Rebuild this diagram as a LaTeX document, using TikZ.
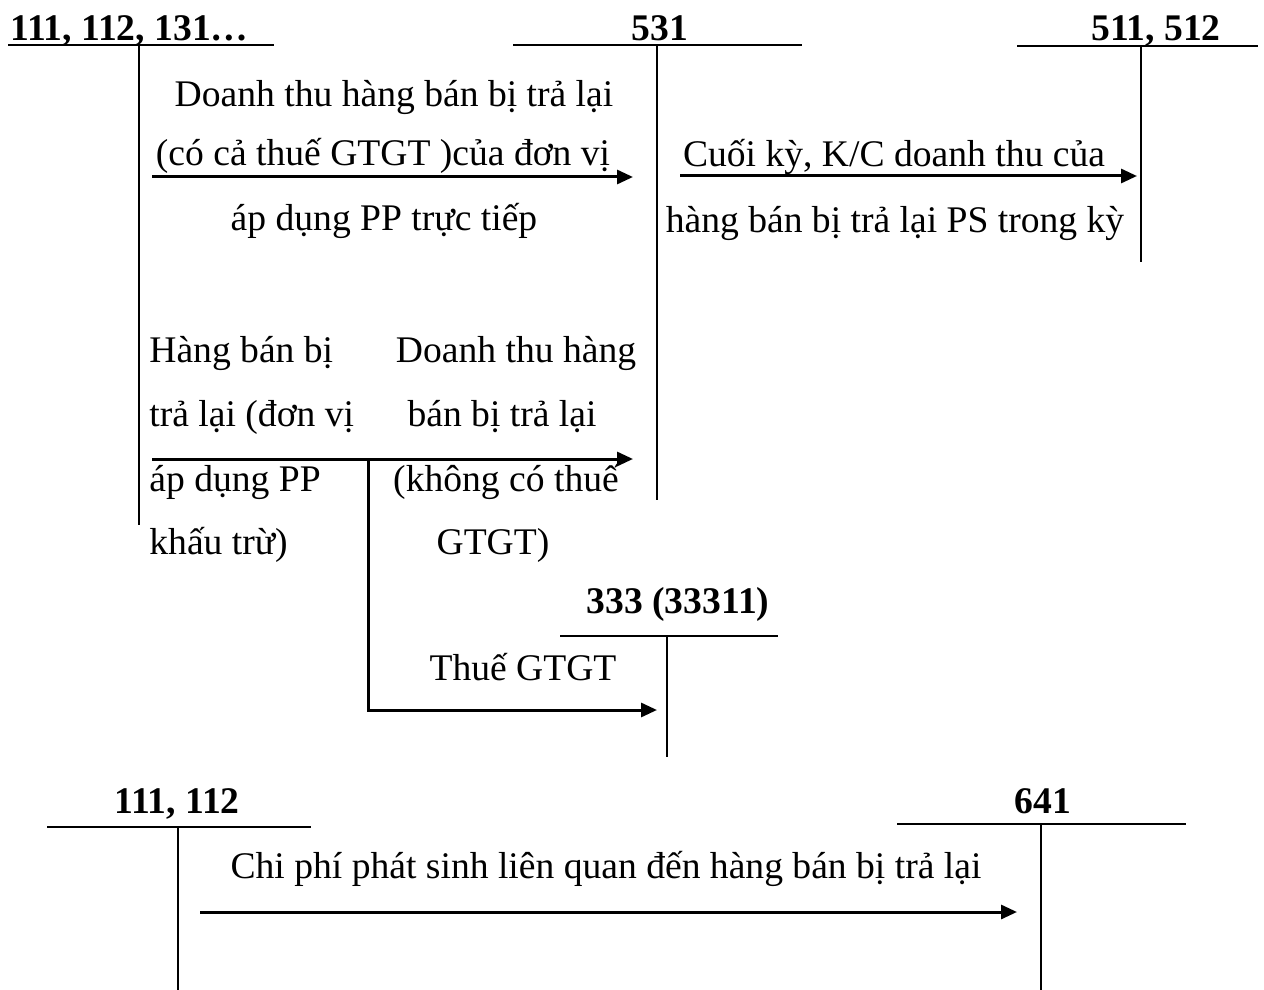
\documentclass[tikz,border=0pt]{standalone}
\usepackage{fontspec}
\setmainfont{Liberation Serif}
\usetikzlibrary{arrows.meta}

\begin{document}
\begin{tikzpicture}[x=0.5pt,y=-0.5pt,
    txt/.style={inner sep=0pt,anchor=base,font=\fontsize{18.8}{22}\selectfont},
    acc/.style={txt,font=\fontsize{18.8}{22}\selectfont\bfseries},
    tline/.style={line width=1pt},
    arr/.style={line width=1.5pt,-{Triangle[length=8pt,width=7pt]}}]
    \useasboundingbox (0,0) rectangle (1264,990);

    % TK 111, 112, 131...
    \coordinate (A1) at (8,45.5);
    \coordinate (A2) at (274,45.5);
    \coordinate (At) at (139,45.5);
    \coordinate (Ab) at (139,525);
    \draw[tline] (A1) -- (A2);
    \draw[tline] (At) -- (Ab);
    \node[acc,anchor=base west] (a) at (10,41) {111, 112, 131…};

    % TK 531
    \coordinate (B1) at (513,45.5);
    \coordinate (B2) at (802,45.5);
    \coordinate (Bt) at (657,45.5);
    \coordinate (Bb) at (657,500);
    \draw[tline] (B1) -- (B2);
    \draw[tline] (Bt) -- (Bb);
    \node[acc] (b) at (660,41) {531};

    % TK 511, 512
    \coordinate (C1) at (1017,46);
    \coordinate (C2) at (1258,46);
    \coordinate (Ct) at (1141,46);
    \coordinate (Cb) at (1141,262);
    \draw[tline] (C1) -- (C2);
    \draw[tline] (Ct) -- (Cb);
    \node[acc] (c) at (1156,41) {511, 512};

    % TK 333 (33311)
    \coordinate (D1) at (560,636);
    \coordinate (D2) at (778,636);
    \coordinate (Dt) at (667,636);
    \coordinate (Db) at (667,757);
    \draw[tline] (D1) -- (D2);
    \draw[tline] (Dt) -- (Db);
    \node[acc] (d) at (678,613) {333 (33311)};

    % TK 111, 112 (duoi)
    \coordinate (E1) at (47,827);
    \coordinate (E2) at (311,827);
    \coordinate (Et) at (178,827);
    \coordinate (Eb) at (178,990);
    \draw[tline] (E1) -- (E2);
    \draw[tline] (Et) -- (Eb);
    \node[acc] (e) at (177,813) {111, 112};

    % TK 641
    \coordinate (F1) at (897,824);
    \coordinate (F2) at (1186,824);
    \coordinate (Ft) at (1041,824);
    \coordinate (Fb) at (1041,990);
    \draw[tline] (F1) -- (F2);
    \draw[tline] (Ft) -- (Fb);
    \node[acc] (f) at (1043,813) {641};

    % But toan
    \coordinate (p1) at (152,177);
    \coordinate (q1) at (633,177);
    \coordinate (p2) at (680,176);
    \coordinate (q2) at (1137,176);
    \coordinate (p3) at (152,459);
    \coordinate (q3) at (633,459);
    \coordinate (r3) at (368,459);
    \coordinate (s3) at (368,710);
    \coordinate (q4) at (657,710);
    \coordinate (p5) at (200,912);
    \coordinate (q5) at (1017,912);
    \draw[arr] (p1) -- (q1);
    \draw[arr] (p2) -- (q2);
    \draw[arr] (p3) -- (q3);
    \draw[arr] (r3) -- (s3) -- (q4);
    \draw[arr] (p5) -- (q5);

    % Dien giai
    \node[txt] (t1) at (394,107) {Doanh thu hàng bán bị trả lại};
    \node[txt] (t2) at (383,166) {(có cả thuế GTGT )của đơn vị};
    \node[txt] (t3) at (384,230) {áp dụng PP trực tiếp};
    \node[txt] (t4) at (894,167) {Cuối kỳ, K/C doanh thu của};
    \node[txt] (t5) at (895,232) {hàng bán bị trả lại PS trong kỳ};

    \node[txt,anchor=base west] (l1) at (149,362) {Hàng bán bị};
    \node[txt,anchor=base west] (l2) at (149,426) {trả lại (đơn vị};
    \node[txt,anchor=base west] (l3) at (149,491) {áp dụng PP};
    \node[txt,anchor=base west] (l4) at (149,554) {khấu trừ)};

    \node[txt] (m1) at (516,362) {Doanh thu hàng};
    \node[txt] (m2) at (502,426) {bán bị trả lại};
    \node[txt] (m3) at (506,491) {(không có thuế};
    \node[txt] (m4) at (493,554) {GTGT)};

    \node[txt] (t6) at (523,680) {Thuế GTGT};
    \node[txt] (t7) at (606,878) {Chi phí phát sinh liên quan đến hàng bán bị trả lại};
\end{tikzpicture}
\end{document}
